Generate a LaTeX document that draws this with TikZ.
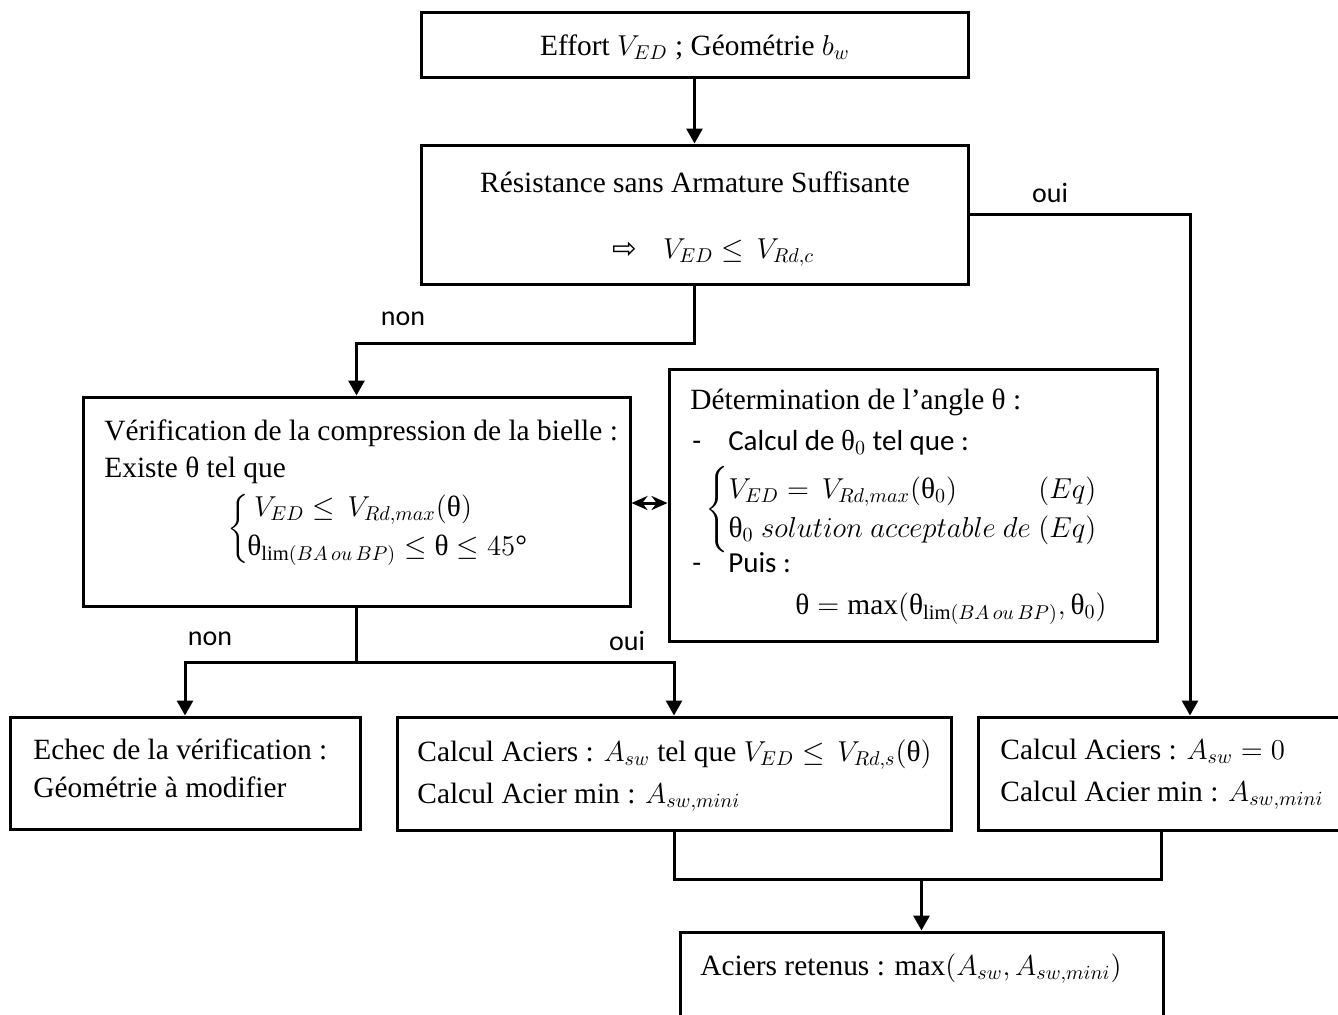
\documentclass[tikz,border=0pt]{standalone}
\usepackage{amsmath}
\usepackage{fontspec}
\setmainfont{Liberation Serif}
\newfontfamily\calibfont{Carlito}
\newfontfamily\symbfont{DejaVu Sans}
\usetikzlibrary{arrows.meta,fit,calc}
% upright theta taken from the text font
\newcommand{\thup}{\text{\normalfont θ}}
\begin{document}
\begin{tikzpicture}[x=0.5pt,y=-0.5pt]
\tikzset{
  box/.style={draw, line width=1.5pt, inner sep=0pt},
  txt/.style={anchor=base west, inner sep=0pt, font=\fontsize{14.7}{17.6}\selectfont},
  ctxt/.style={txt, anchor=base},
  sys/.style={anchor=west, inner sep=0pt, font=\fontsize{14.7}{17.6}\selectfont},
  lbl/.style={anchor=base, inner sep=0pt, font=\calibfont\fontsize{14}{16}\selectfont},
  ctext/.style={txt, font=\calibfont\fontsize{14.5}{17}\selectfont},
  link/.style={line width=1.5pt},
  arr/.style={link, -{Triangle[length=7.5pt,width=8pt]}},
  darr/.style={link, {Stealth[length=8pt,width=7pt]}-{Stealth[length=8pt,width=7pt]}},
}
\useasboundingbox (0,0) rectangle (1338,1014);
\fill[white] (0,0) rectangle (1338,1014);
\clip (0,0) rectangle (1338,1014);

% boxes
\node[box, fit={(421,12)(968,77)}]    (b1) {};
\node[box, fit={(421,145)(968,284)}]  (b2) {};
\node[box, fit={(83,397)(630,606)}]   (b3) {};
\node[box, fit={(669,369)(1157,641)}] (b4) {};
\node[box, fit={(10,717)(360,829)}]   (b5) {};
\node[box, fit={(397,717)(951,830)}]  (b6) {};
\node[box, fit={(978,717)(1345,830)}] (b7) {};
\node[box, fit={(680,932)(1163,1040)}] (b8) {};

% texts
\node[ctxt] (t1) at (695,55) {Effort $V_{ED}$ ; Géométrie $b_w$};

\node[ctxt] (t2a) at (695,192) {Résistance sans Armature Suffisante};
\node[txt] (t2b) at (612,258) {{\symbfont ⇨}\hspace{13pt}$V_{ED}\le\,V_{Rd{,}c}$};

\node[txt] (t3a) at (104,440) {Vérification de la compression de la bielle :};
\node[txt] (t3b) at (104,477) {Existe θ tel que};
% two-line condition with its brace
\node[sys, anchor=center, font=\fontsize{14.7}{17.6}\selectfont] (t3br) at (239,529)
  {$\left\{\rule[-13.3pt]{0pt}{33pt}\right.$};
\node[ctxt] (t3c) at (363,516) {$V_{ED}\le\,V_{Rd{,}max}(\thup)$};
\node[txt] (t3d) at (247,555) {$\thup_{\mathrm{lim}(BA\,ou\,BP)}\le\thup\le 45\text{°}$};

\node[txt] (t4a) at (690,409) {Détermination de l’angle θ :};
\node[ctext] (t4b) at (692,450) {-\hspace{13.5pt}Calcul de $\thup_0$ tel que :};
\node[sys] (t4c) at (705,510) {\renewcommand{\arraystretch}{1.1}%
  $\left\{\begin{array}{@{}l@{}r@{}}
    V_{ED}=\,V_{Rd{,}max}(\thup_0) & (Eq)\\
    \multicolumn{2}{@{}l@{}}{\thup_0\ solution\ acceptable\ de\ (Eq)}
  \end{array}\right.$};
\node[ctext] (t4d) at (692,572) {-\hspace{13.5pt}Puis :};
\node[txt] (t4e) at (795,614)
  {$\thup=\max(\thup_{\mathrm{lim}(BA\,ou\,BP)},\thup_0)$};

\node[txt] (t5a) at (33,759) {Echec de la vérification :};
\node[txt] (t5b) at (33,797) {Géométrie à modifier};

\node[txt] (t6a) at (417,761) {Calcul Aciers : $A_{sw}$ tel que $V_{ED}\le\,V_{Rd{,}s}(\thup)$};
\node[txt] (t6b) at (417,803) {Calcul Acier min : $A_{sw{,}mini}$};

\node[txt] (t7a) at (1000,759) {Calcul Aciers : $A_{sw}=0$};
\node[txt] (t7b) at (1000,801) {Calcul Acier min : $A_{sw{,}mini}$};

\node[txt] (t8) at (700,975) {Aciers retenus : $\max(A_{sw},A_{sw{,}mini})$};

% branch labels
\node[lbl] (l1) at (1050,202) {oui};
\node[lbl] (l2) at (403,325) {non};
\node[lbl] (l3) at (210,645) {non};
\node[lbl] (l4) at (627,650) {oui};

% connectors
\coordinate (rx) at (1190,0);
\coordinate (dy) at (0,503);
\coordinate (split) at ($(b3.south)+(0,55)$);
\coordinate (join) at ($(b8.north)+(0,-51)$);

\draw[arr] (b1) -- (b2);
\draw[arr] (b2.east) -| (rx |- b7.north);
\draw[arr] (b2.south) -- ++(0,58) -| (b3.north);
\draw[darr] (b3.east |- dy) -- (b4.west |- dy);
\draw[link] (b3.south) -- (split);
\draw[arr] (split) -| (b5.north);
\draw[arr] (split) -| (b6.north);
\draw[link] (b6.south) |- (join);
\draw[link] (b7.south) |- (join);
\draw[arr] (join) -- (b8.north);
\end{tikzpicture}
\end{document}
